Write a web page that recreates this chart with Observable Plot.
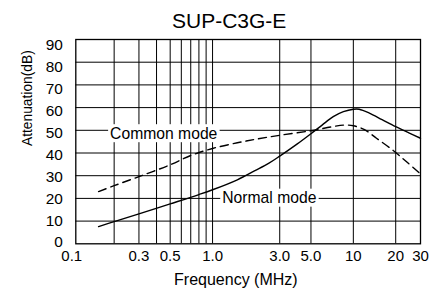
<!DOCTYPE html>
<html>
<head>
<meta charset="utf-8">
<script src="https://cdn.jsdelivr.net/npm/d3@7"></script>
<script src="https://cdn.jsdelivr.net/npm/@observablehq/plot@0.6"></script>
<style>
  html, body { margin: 0; padding: 0; background: white; }
  #chart { width: 438px; height: 291px; }
</style>
</head>
<body>
<div id="chart"></div>
<script>
// ---- data ----
const title = "SUP-C3G-E";
const xTitle = "Frequency (MHz)";
const yTitle = "Attenuation(dB)";

const xGrid = [0.2, 0.3, 0.4, 0.5, 0.6, 0.7, 0.8, 0.9, 1, 3, 5, 10, 20];
const yGrid = [10, 20, 30, 40, 50, 60, 70, 80];
const xTickValues = [0.1, 0.3, 0.5, 1, 3, 5, 10, 20, 30];
const xTickLabels = ["0.1", "0.3", "0.5", "1.0", "3.0", "5.0", "10", "20", "30"];
const yTickValues = [0, 10, 20, 30, 40, 50, 60, 70, 80, 90];

const normalFreq = [0.155, 0.2, 0.3, 0.5, 0.8, 1.0, 1.5, 2.0, 2.5, 3.0, 4.0, 5.0, 6.0, 7.2, 8.5, 10, 11, 13, 16, 20, 25, 30];
const normalDb   = [7.6, 9.8, 13.2, 17.6, 21.7, 23.8, 28.2, 32.2, 35.4, 38.6, 44.0, 48.5, 52.3, 56.0, 58.2, 59.3, 59.3, 57.6, 54.7, 51.6, 48.8, 46.5];

const commonFreq = [0.155, 0.2, 0.3, 0.5, 0.7, 1.0, 1.5, 2.0, 3.0, 5.0, 7.0, 8.5, 10, 12, 14.6, 19.2, 24, 30];
const commonDb   = [23.0, 25.6, 29.6, 34.8, 38.9, 42.0, 44.5, 46.0, 47.8, 49.8, 51.5, 52.3, 52.0, 50.3, 46.5, 41.1, 36.0, 30.8];

const annotationText = ["Common mode", "Normal mode"];
const annotationFreq = [0.45, 2.53];
const annotationDb = [46.3, 17.9];

// ---- tables ----
const normal = normalFreq.map((f, i) => ({f, db: normalDb[i]}));
const common = commonFreq.map((f, i) => ({f, db: commonDb[i]}));
const annotations = annotationText.map((t, i) => ({t, f: annotationFreq[i], db: annotationDb[i]}));
const xTicks = xTickValues.map((v, i) => ({v, label: xTickLabels[i]}));

const font = "'Liberation Sans', Arial, Helvetica, sans-serif";

const plot = Plot.plot({
  width: 438,
  height: 291,
  marginLeft: 75.3,
  marginRight: 18,
  marginTop: 39,
  marginBottom: 47.7,
  style: {fontFamily: font, background: "white", color: "black", overflow: "visible"},
  x: {type: "log", domain: [0.1068, 30], axis: null},
  y: {domain: [0, 90], axis: null},
  marks: [
    Plot.ruleX(xGrid, {stroke: "black", strokeWidth: 1}),
    Plot.ruleY(yGrid, {stroke: "black", strokeWidth: 1}),
    Plot.frame({stroke: "black", strokeWidth: 1.3}),
    Plot.text(annotations, {x: "f", y: "db", text: "t", lineAnchor: "bottom", fontSize: 15.7, fill: "black"}),
    Plot.line(normal, {x: "f", y: "db", curve: "catmull-rom", stroke: "black", strokeWidth: 1.4}),
    Plot.line(common, {x: "f", y: "db", curve: "catmull-rom", stroke: "black", strokeWidth: 1.4, strokeDasharray: "8,5"}),
    Plot.text(xTicks, {x: "v", text: "label", frameAnchor: "bottom", dy: 17, fontSize: 15, fill: "black"}),
    Plot.text(yTickValues, {y: d => d * 0.9665 + 0.57, text: d => String(d), frameAnchor: "left", textAnchor: "end", dx: -13, fontSize: 15.4, fill: "black"}),
    Plot.text([title], {text: d => d, frameAnchor: "top", lineAnchor: "bottom", dy: -11.7, dx: -19, fontSize: 21, fill: "black"}),
    Plot.text([xTitle], {text: d => d, frameAnchor: "bottom", lineAnchor: "bottom", dy: 40.7, dx: -12.3, fontSize: 16, fill: "black"}),
    Plot.text([yTitle], {text: d => d, frameAnchor: "left", rotate: -90, lineAnchor: "bottom", dx: -44.3, dy: 4.4, fontSize: 13.8, fill: "black"})
  ]
});

document.getElementById("chart").appendChild(plot);

// white boxes behind the in-plot curve labels
plot.querySelectorAll("text").forEach(el => {
  if (annotationText.includes(el.textContent)) {
    const b = el.getBBox();
    const r = document.createElementNS("http://www.w3.org/2000/svg", "rect");
    r.setAttribute("x", b.x - 2);
    r.setAttribute("y", b.y - 0.5);
    r.setAttribute("width", b.width + 4);
    r.setAttribute("height", b.height + 1);
    r.setAttribute("fill", "white");
    const tr = el.getAttribute("transform");
    if (tr) r.setAttribute("transform", tr);
    el.parentNode.insertBefore(r, el);
  }
});
</script>
</body>
</html>
